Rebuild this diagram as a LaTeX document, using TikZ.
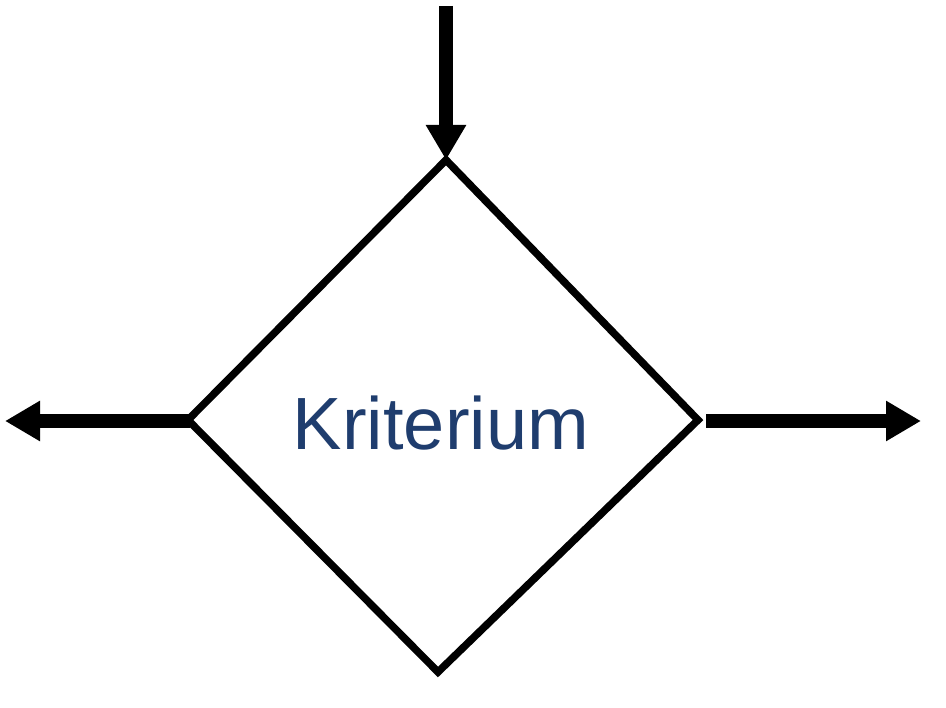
\documentclass[tikz,border=0pt]{standalone}
\usepackage{fontspec}
\setmainfont{Liberation Sans}
\usetikzlibrary{arrows.meta}
\definecolor{txtblue}{HTML}{1F3D6E}
\tikzset{
  flowarrow/.style={line width=13.5pt, -{Triangle[length=35pt,width=38pt]}},
  diamondline/.style={line width=7.5pt, line join=miter}
}
\begin{document}
\begin{tikzpicture}[x=1pt,y=-1pt]
\useasboundingbox (0,0) rectangle (946,708);
\coordinate (T) at (446,160);
\coordinate (R) at (698,420);
\coordinate (B) at (438,672);
\coordinate (L) at (188,420);
\coordinate (inTop) at (446,6);
\coordinate (outL) at (5,421);
\coordinate (outR) at (921,421);
\coordinate (Rs) at (706,421);
\coordinate (Ls) at (190,421);
\draw[diamondline] (T) -- (R) -- (B) -- (L) -- cycle;
\node[text=txtblue, font=\fontsize{74}{88}\selectfont, inner sep=0pt] (crit) at (441,423) {Kriterium};
\draw[flowarrow] (inTop) -- (T);
\draw[flowarrow] (Ls) -- (outL);
\draw[flowarrow] (Rs) -- (outR);
\end{tikzpicture}
\end{document}
